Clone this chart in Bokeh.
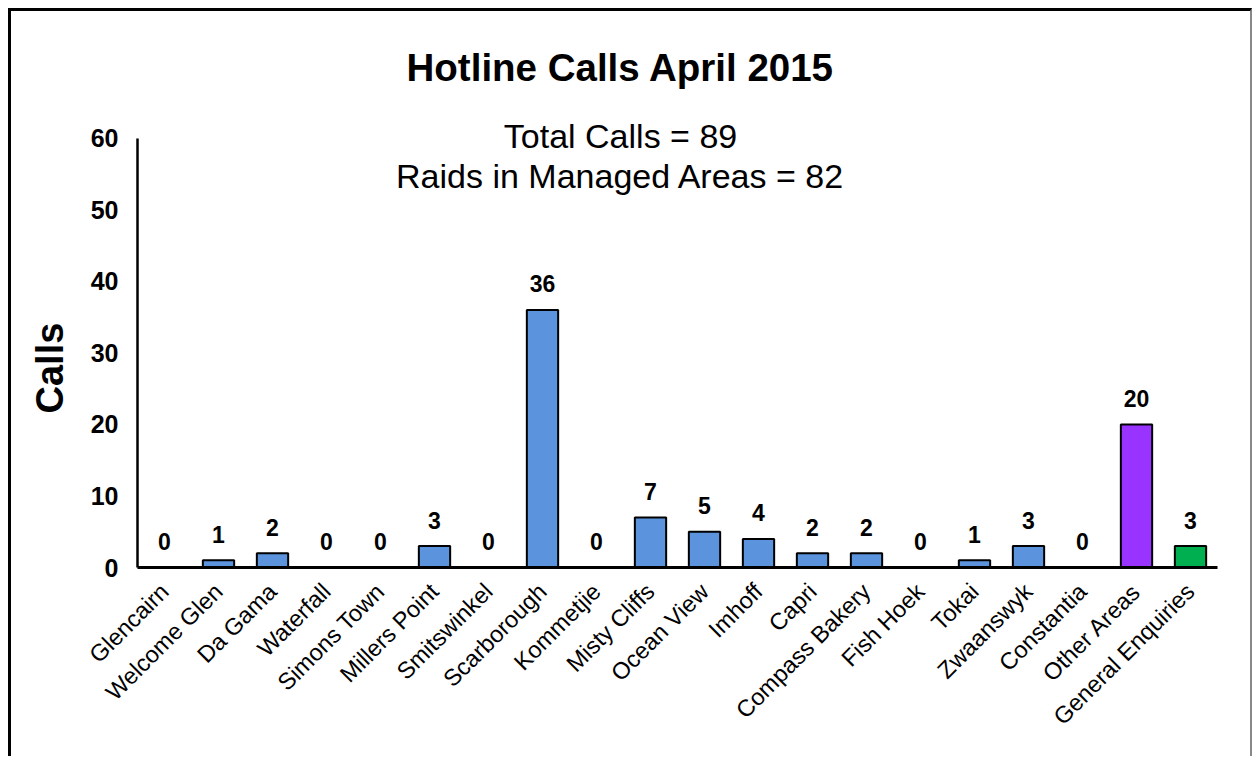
from bokeh.plotting import figure
from bokeh.models import ColumnDataSource, Label, FactorRange, Range1d, FixedTicker, Title
from bokeh.embed import file_html
from bokeh.resources import INLINE
from bokeh.core.properties import value
import math

# ---- data ----
areas = ["Glencairn", "Welcome Glen", "Da Gama", "Waterfall", "Simons Town",
         "Millers Point", "Smitswinkel", "Scarborough", "Kommetjie", "Misty Cliffs",
         "Ocean View", "Imhoff", "Capri", "Compass Bakery", "Fish Hoek", "Tokai",
         "Zwaanswyk", "Constantia", "Other Areas", "General Enquiries"]
calls = [0, 1, 2, 0, 0, 3, 0, 36, 0, 7, 5, 4, 2, 2, 0, 1, 3, 0, 20, 3]
y_ticks = [0, 10, 20, 30, 40, 50, 60]
y_max = 60
title_text = "Hotline Calls April 2015"
sub1 = "Total Calls = 89"
sub2 = "Raids in Managed Areas = 82"
y_label = "Calls"

BLUE = "#5B93DC"
PURPLE = "#9933FF"
GREEN = "#00B050"
colors = [BLUE] * 18 + [PURPLE, GREEN]

FONT = "Liberation Sans"

# layout (page pixels)
W, H = 1239, 745
ox, oy = 11, 14                      # effective canvas origin on page
ax_left, ax_right, ax_top, ax_bottom = 137, 1212, 140, 567
frame_l = ax_left - ox
frame_r = ax_right - ox
frame_b = ax_bottom - oy
frame_h = frame_b                     # frame reaches canvas top
y_end = y_max * frame_h / (ax_bottom - ax_top)

p = figure(x_range=FactorRange(*areas), y_range=Range1d(0, y_end),
           width=W, height=H, output_backend="svg", toolbar_location=None,
           min_border_left=frame_l, min_border_right=W - frame_r,
           min_border_top=0, min_border_bottom=H - frame_b)
p.styles = {"box-sizing": "content-box", "margin-left": "8px", "margin-top": "8px",
            "border-top": "3px solid black", "border-left": "3px solid black",
            "border-right": "2px solid #888888"}
p.outline_line_color = None
p.xgrid.grid_line_color = None
p.ygrid.grid_line_color = None
p.background_fill_color = "white"
p.border_fill_color = "white"

src = ColumnDataSource(dict(area=areas, calls=calls, color=colors,
                            label=[str(c) for c in calls]))
p.vbar(x="area", top="calls", width=0.58, source=src, fill_color="color",
       line_color="black", line_width=2)
p.text(x="area", y="calls", text="label", source=src, text_align="center",
       text_baseline="alphabetic", y_offset=-26, text_font=value(FONT),
       text_font_style="bold", text_font_size="23px", text_color="black")

# axes
for ax in (p.xaxis[0], p.yaxis[0]):
    ax.major_tick_line_color = None
    ax.minor_tick_line_color = None
    ax.major_tick_out = 0
    ax.major_tick_in = 0
    ax.axis_line_color = "black"
p.xaxis.axis_line_width = 3
p.yaxis.axis_line_width = 2.5
p.yaxis.bounds = (0, y_max)
p.yaxis.ticker = FixedTicker(ticks=y_ticks)
p.yaxis.major_label_text_font = FONT
p.yaxis.major_label_text_font_style = "bold"
p.yaxis.major_label_text_font_size = "25px"
p.yaxis.major_label_text_color = "black"
p.yaxis.major_label_standoff = 19

p.xaxis.major_label_orientation = math.pi / 4
p.xaxis.major_label_text_font = FONT
p.xaxis.major_label_text_font_style = "normal"
p.xaxis.major_label_text_font_size = "23.5px"
p.xaxis.major_label_text_color = "black"
p.xaxis.major_label_standoff = 20

# y-axis title placed beside the axis, starting 154 px above the x axis
p.add_layout(Title(text=y_label, align="left", offset=ax_bottom - 413,
                   vertical_align="middle", standoff=32, text_font=FONT,
                   text_font_style="bold", text_font_size="38px",
                   text_color="black"), "left")

cx = 620 - ax_left
p.add_layout(Label(x=cx, y=ax_bottom - 67, x_units="screen", y_units="screen", text=title_text,
                   text_align="center", text_baseline="middle", text_font=FONT,
                   text_font_style="bold", text_font_size="38.5px", text_color="black"))
p.add_layout(Label(x=cx, y=ax_bottom - 135, x_units="screen", y_units="screen", text=sub1,
                   text_align="center", text_baseline="middle", text_font=FONT,
                   text_font_size="34px", text_color="black"))
p.add_layout(Label(x=cx, y=ax_bottom - 175, x_units="screen", y_units="screen", text=sub2,
                   text_align="center", text_baseline="middle", text_font=FONT,
                   text_font_size="34px", text_color="black"))

open("out.html", "w").write(file_html(p, INLINE))
